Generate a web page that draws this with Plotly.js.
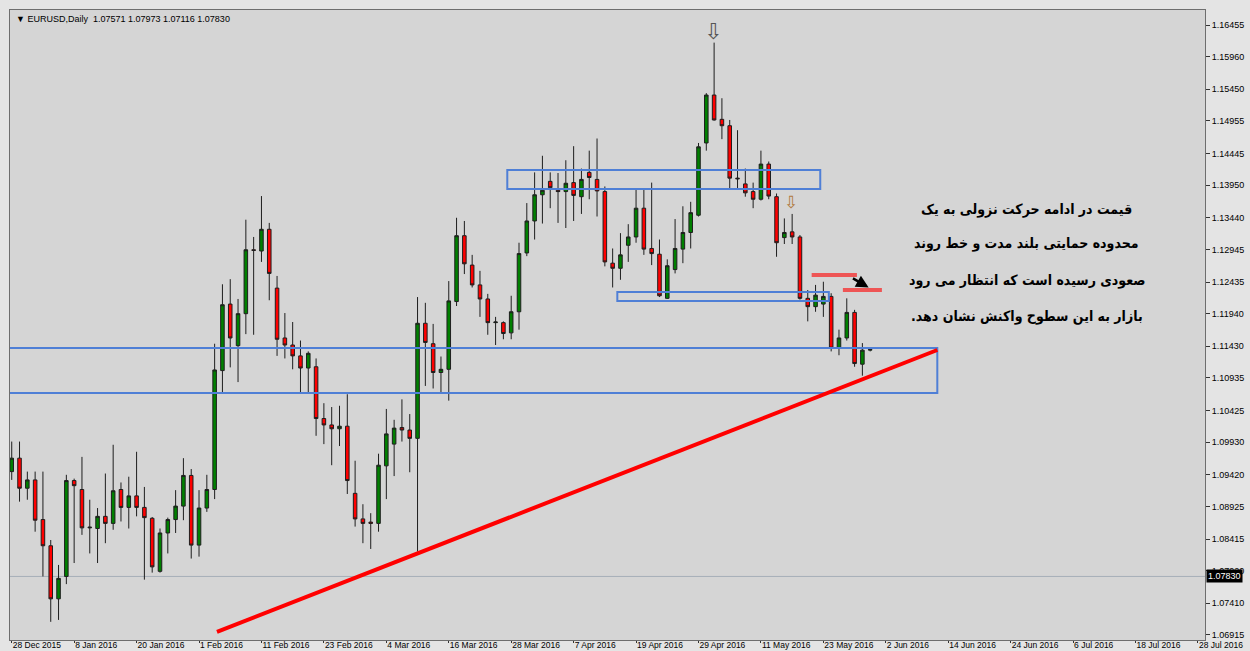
<!DOCTYPE html>
<html>
<head>
<meta charset="utf-8">
<script src="https://cdn.plot.ly/plotly-3.0.1.min.js"></script>
<style>
html,body{margin:0;padding:0;background:#e4e4e4;}
#chart{width:1250px;height:651px;}
</style>
</head>
<body>
<div id="chart"></div>
<script>
// ---- data ----
const openP = [1.0947,1.0968,1.0921,1.0934,1.0872,1.0831,1.0748,1.0783,1.0933,1.0919,
1.0859,1.0858,1.0877,1.0866,1.0919,1.0891,1.0909,1.0891,1.0874,1.0791,
1.0851,1.0872,1.0893,1.0941,1.0832,1.0890,1.0919,1.1105,1.1209,1.1144,
1.1194,1.1294,1.1292,1.1326,1.1234,1.1156,1.1145,1.1128,1.1109,1.1111,
1.1030,1.1020,1.1014,1.1018,1.0913,1.0873,1.0868,1.0866,1.0956,1.0990,
1.1016,1.1012,1.0999,1.1179,1.1147,1.1102,1.1107,1.1213,1.1316,1.1270,
1.1239,1.1217,1.1180,1.1180,1.1164,1.1197,1.1289,1.1339,1.1380,1.1401,
1.1387,1.1385,1.1399,1.1377,1.1415,1.1404,1.1385,1.1273,1.1265,1.1301,
1.1314,1.1359,1.1296,1.1287,1.1218,1.1263,1.1295,1.1321,1.1348,1.1461,
1.1536,1.1498,1.1488,1.1406,1.1397,1.1385,1.1373,1.1428,1.1377,1.1313,
1.1322,1.1314,1.1218,1.1205,1.1209,1.1221,1.1140,1.1156,1.1196,1.1115,1.1137];
const highP = [1.0994,1.0994,1.0947,1.0947,1.0947,1.0840,1.0801,1.0942,1.0936,1.0970,
1.0903,1.0890,1.0944,1.0989,1.0930,1.0939,1.0978,1.0923,1.0876,1.0858,
1.0875,1.0918,1.0968,1.0951,1.0918,1.0942,1.1147,1.1240,1.1248,1.1217,
1.1341,1.1314,1.1378,1.1336,1.1253,1.1195,1.1181,1.1152,1.1135,1.1124,
1.1054,1.1048,1.1050,1.1068,1.0964,1.0896,1.0882,1.0975,1.1045,1.1028,
1.1060,1.1037,1.1220,1.1211,1.1178,1.1127,1.1245,1.1344,1.1339,1.1286,
1.1261,1.1225,1.1189,1.1182,1.1222,1.1305,1.1367,1.1415,1.1441,1.1415,
1.1414,1.1434,1.1456,1.1421,1.1449,1.1468,1.1393,1.1296,1.1320,1.1334,
1.1389,1.1389,1.1399,1.1310,1.1279,1.1342,1.1362,1.1369,1.1461,1.1539,
1.1618,1.1531,1.1497,1.1481,1.1421,1.1399,1.1449,1.1432,1.1382,1.1343,
1.1350,1.1317,1.1231,1.1239,1.1244,1.1226,1.1169,1.1218,1.1200,1.1148,1.1140];
const lowP = [1.0934,1.0900,1.0903,1.0853,1.0783,1.0712,1.0715,1.0771,1.0804,1.0848,
1.0819,1.0804,1.0835,1.0856,1.0869,1.0858,1.0877,1.0778,1.0789,1.0789,
1.0819,1.0851,1.0871,1.0811,1.0814,1.0884,1.0904,1.1070,1.1110,1.1087,
1.1162,1.1161,1.1275,1.1215,1.1128,1.1124,1.1107,1.1071,1.1071,1.1003,
1.0990,1.0957,1.0987,1.0912,1.0861,1.0835,1.0826,1.0853,1.0904,1.0940,
1.0994,1.0946,1.0822,1.1081,1.1077,1.1070,1.1058,1.1206,1.1256,1.1235,
1.1189,1.1161,1.1145,1.1154,1.1154,1.1169,1.1284,1.1310,1.1335,1.1359,
1.1336,1.1328,1.1339,1.1350,1.1373,1.1346,1.1268,1.1235,1.1247,1.1275,
1.1305,1.1286,1.1270,1.1220,1.1217,1.1257,1.1273,1.1296,1.1346,1.1449,
1.1496,1.1467,1.1390,1.1390,1.1377,1.1359,1.1371,1.1373,1.1283,1.1303,
1.1303,1.1216,1.1182,1.1197,1.1189,1.1135,1.1129,1.1152,1.1111,1.1097,1.1135];
const closeP = [1.0968,1.0921,1.0934,1.0871,1.0831,1.0748,1.0780,1.0933,1.0925,1.0859,
1.0860,1.0877,1.0866,1.0917,1.0891,1.0909,1.0891,1.0875,1.0798,1.0851,
1.0872,1.0893,1.0941,1.0832,1.0890,1.0919,1.1106,1.1208,1.1156,1.1194,
1.1294,1.1293,1.1326,1.1257,1.1154,1.1145,1.1128,1.1109,1.1132,1.1030,
1.1020,1.1014,1.1018,1.0933,1.0873,1.0866,1.0866,1.0957,1.1006,1.1015,
1.1012,1.0999,1.1179,1.1149,1.1102,1.1107,1.1214,1.1316,1.1272,1.1239,
1.1217,1.1180,1.1181,1.1163,1.1197,1.1288,1.1339,1.1380,1.1387,1.1391,
1.1385,1.1398,1.1379,1.1404,1.1407,1.1386,1.1275,1.1265,1.1286,1.1314,
1.1359,1.1295,1.1288,1.1222,1.1269,1.1296,1.1321,1.1352,1.1455,1.1536,
1.1497,1.1488,1.1406,1.1405,1.1383,1.1373,1.1428,1.1378,1.1305,1.1321,
1.1314,1.1218,1.1205,1.1223,1.1221,1.1140,1.1156,1.1196,1.1116,1.1137,1.1138];

const dateLabels = ["28 Dec 2015","8 Jan 2016","20 Jan 2016","1 Feb 2016","11 Feb 2016","23 Feb 2016",
"4 Mar 2016","16 Mar 2016","28 Mar 2016","7 Apr 2016","19 Apr 2016","29 Apr 2016","11 May 2016",
"23 May 2016","2 Jun 2016","14 Jun 2016","24 Jun 2016","6 Jul 2016","18 Jul 2016","28 Jul 2016"];
const priceTicks = [1.16455,1.15960,1.15450,1.14955,1.14445,1.13950,1.13440,1.12945,1.12435,1.11940,
1.11430,1.10935,1.10425,1.09930,1.09420,1.08925,1.08415,1.07920,1.07410,1.06915];
const lastPrice = 1.07830;
const headerText = "▼ EURUSD,Daily  1.07571 1.07973 1.07116 1.07830";
const noteLines = ["قیمت در ادامه حرکت نزولی به یک",
"محدوده حمایتی بلند مدت و خط روند",
"صعودی رسیده است که انتظار می رود",
"بازار به این سطوح واکنش نشان دهد."];
// zones / trend line (bar index, price)
const supportZone = {x0:-0.5, x1:118.6, y0:1.10699, y1:1.11403};
const topZone = {x0:63.5, x1:103.6, y0:1.13890, y1:1.14187};
const midZone = {x0:77.6, x1:104.7, y0:1.12138, y1:1.12279};
const trendLine = {x0:26.3, y0:1.06962, x1:118.6, y1:1.11372};

// ---- build ----
const xIdx = openP.map((_, i) => i);
const barsPerLabel = 8;
const tickIdx = dateLabels.map((_, i) => i * barsPerLabel);

const trace = {
  type: 'candlestick',
  x: xIdx, open: openP, high: highP, low: lowP, close: closeP,
  increasing: {line: {color: '#1e1e1e', width: 1}, fillcolor: '#008000'},
  decreasing: {line: {color: '#1e1e1e', width: 1}, fillcolor: '#ff0000'},
  whiskerwidth: 0,
  hoverinfo: 'none',
  showlegend: false
};

const blue = '#4f7fd6';
const shapes = [
  {type:'rect', xref:'x', yref:'y', ...supportZone, line:{color:blue, width:2}, fillcolor:'rgba(0,0,0,0)'},
  {type:'rect', xref:'x', yref:'y', ...topZone, line:{color:blue, width:2}, fillcolor:'rgba(0,0,0,0)'},
  {type:'rect', xref:'x', yref:'y', ...midZone, line:{color:blue, width:2}, fillcolor:'rgba(0,0,0,0)'},
  {type:'line', xref:'x', yref:'y', ...trendLine, line:{color:'#ff0000', width:4}},
  {type:'line', xref:'x', yref:'y', x0:102.5, x1:108.3, y0:1.12545, y1:1.12545, line:{color:'#ee5555', width:4}},
  {type:'line', xref:'x', yref:'y', x0:106.5, x1:111.5, y0:1.12310, y1:1.12310, line:{color:'#ee5555', width:4}},
  {type:'line', xref:'paper', yref:'y', x0:0, x1:1, y0:lastPrice, y1:lastPrice, line:{color:'#a6afb8', width:1}, layer:'below'}
];

const annotations = [
  {xref:'paper', yref:'paper', x:0.003, y:0.986, xanchor:'left', yanchor:'middle', showarrow:false,
   text: headerText, font:{family:'Liberation Sans, Arial', size:9, color:'#000'}},
  {xref:'paper', yref:'y', x:1, xshift:1, y:lastPrice, xanchor:'left', yanchor:'middle', showarrow:false,
   text: lastPrice.toFixed(5), bgcolor:'#000', font:{family:'Liberation Sans, Arial', size:9, color:'#fff'}, borderpad:1},
  {xref:'x', yref:'y', x:89.9, y:1.1635, showarrow:false, text:'⇩', font:{family:'DejaVu Sans', size:22, color:'#555'}},
  {xref:'x', yref:'y', x:99.8, y:1.1368, showarrow:false, text:'⇩', font:{family:'DejaVu Sans', size:17, color:'#b07a40'}},
  {xref:'x', yref:'y', axref:'x', ayref:'y', x:109.8, y:1.12350, ax:107.6, ay:1.12505, text:'', showarrow:true,
   arrowhead:2, arrowsize:1, arrowwidth:2.5, arrowcolor:'#000'}
];
const lineY = [0.684, 0.6286, 0.5714, 0.5127];
noteLines.forEach((t, i) => annotations.push({
  xref:'paper', yref:'paper', x:0.851, y:lineY[i], xanchor:'center', yanchor:'middle', showarrow:false,
  text: t + '\u200F',
  font:{family:'DejaVu Sans Condensed, DejaVu Sans', size:14, color:'#000', weight:'bold'}
}));

const layout = {
  width:1250, height:651,
  margin:{l:10, r:45, t:10, b:11, pad:0},
  paper_bgcolor:'#e4e4e4', plot_bgcolor:'#d5d5d5',
  boxgap:0.35,
  dragmode:false,
  xaxis:{
    range:[-0.22, 152.9], rangeslider:{visible:false}, fixedrange:true,
    tickvals: tickIdx, ticktext: dateLabels, ticks:'outside', ticklen:2, tickcolor:'#333',
    ticklabelposition:'outside right', ticklabelstandoff:-3, tickangle:0,
    tickfont:{family:'Liberation Sans, Arial', size:8.5, color:'#000'},
    showgrid:false, zeroline:false, showline:true, linecolor:'#6e6e6e', linewidth:1, mirror:true,
    automargin:false
  },
  yaxis:{
    side:'right', range:[1.06836, 1.1669], fixedrange:true,
    tickvals: priceTicks, ticktext: priceTicks.map(v => v.toFixed(5)),
    ticks:'outside', ticklen:4, tickcolor:'#333',
    tickfont:{family:'Liberation Sans, Arial', size:9, color:'#000'},
    showgrid:false, zeroline:false, showline:true, linecolor:'#6e6e6e', linewidth:1, mirror:true,
    automargin:false
  },
  shapes, annotations
};

Plotly.newPlot('chart', [trace], layout, {displayModeBar:false, staticPlot:true});
</script>
</body>
</html>
